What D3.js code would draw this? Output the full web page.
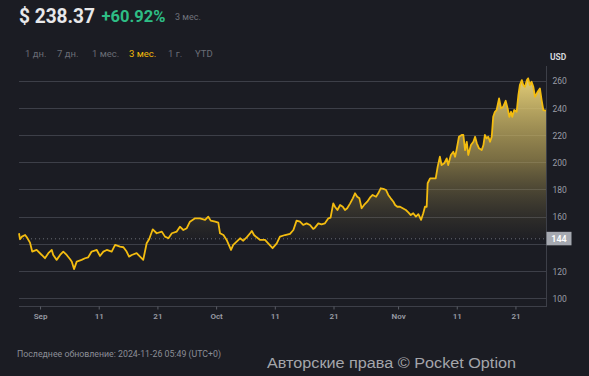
<!DOCTYPE html>
<html><head><meta charset="utf-8">
<script src="https://cdn.jsdelivr.net/npm/d3@7"></script>
<style>html,body{margin:0;padding:0;background:#1b1c23;}svg{display:block;}</style>
</head><body>
<svg id="c" width="589" height="376"></svg>
<script>
// ---- data ----
const dates = ["08-28 10","08-28 14","08-28 22","08-29 11","08-29 18","08-30 07","08-30 16","08-31 10","09-01 07","09-01 20",
"09-02 10","09-03 00","09-03 06","09-03 20","09-04 10","09-04 23","09-05 13","09-06 03","09-06 10","09-06 19",
"09-07 06","09-08 02","09-08 16","09-09 05","09-09 19","09-10 16","09-11 05","09-11 19","09-12 09","09-13 05",
"09-13 19","09-14 15","09-15 05","09-15 18","09-16 04","09-16 15","09-17 11","09-18 01","09-18 14","09-19 04",
"09-19 14","09-20 05","09-20 21","09-21 18","09-22 07","09-22 21","09-23 11","09-24 07","09-24 20","09-25 10",
"09-26 00","09-26 13","09-27 10","09-28 06","09-29 03","09-29 16","09-30 02","09-30 20","10-01 09","10-01 16",
"10-02 06","10-02 19","10-03 13","10-03 22","10-04 12","10-05 02","10-05 15","10-06 05","10-06 19","10-07 02",
"10-07 11","10-07 22","10-08 11","10-09 08","10-09 21","10-10 15","10-11 08","10-11 21","10-12 18","10-13 14",
"10-14 04","10-14 17","10-15 07","10-15 20","10-16 10","10-17 00","10-17 13","10-17 20","10-18 10","10-18 23",
"10-19 13","10-20 03","10-20 12","10-20 23","10-21 06","10-21 16","10-22 03","10-22 14","10-22 23","10-23 08",
"10-23 20","10-24 07","10-24 16","10-25 01","10-25 10","10-25 19","10-26 05","10-26 18","10-27 05","10-27 16",
"10-28 06","10-28 15","10-29 01","10-29 12","10-29 23","10-30 08","10-30 18","10-31 05","10-31 12","10-31 21",
"11-01 08","11-01 19","11-02 08","11-02 18","11-03 04","11-03 14","11-04 01","11-04 11","11-04 22","11-05 07",
"11-05 14","11-05 21","11-06 01","11-06 11","11-07 00","11-07 10","11-07 18","11-08 03","11-08 10","11-08 21",
"11-09 07","11-09 13","11-10 00","11-10 10","11-10 17","11-10 23","11-11 09","11-11 20","11-12 03","11-12 10",
"11-12 17","11-12 23","11-13 10","11-13 20","11-14 03","11-14 10","11-14 19","11-15 06","11-15 13","11-15 19",
"11-16 02","11-16 09","11-16 16","11-16 23","11-17 05","11-17 12","11-17 19","11-18 05","11-18 13","11-18 22",
"11-19 08","11-19 16","11-19 23","11-20 06","11-20 11","11-20 19","11-21 05","11-21 12","11-21 18","11-22 02",
"11-22 08","11-22 15","11-22 23","11-23 04","11-23 11","11-23 18","11-24 01","11-24 08","11-24 19","11-25 04",
"11-25 11","11-25 18","11-26 05"];
const prices = [148.1,143.7,145.6,146.8,145.1,141.2,134.6,135.8,132.1,129.7,
133.4,135.8,132.1,128.5,132.1,134.6,132.1,129.0,127.2,121.7,
127.2,128.5,129.7,130.4,134.6,135.8,131.4,134.6,135.8,134.6,
139.5,138.2,137.8,134.6,130.9,132.1,133.4,130.9,128.5,140.7,
143.7,151.0,148.1,149.3,145.6,144.4,148.1,149.3,152.9,150.5,
151.8,156.6,159.1,159.1,157.9,160.3,157.4,156.6,155.9,148.1,
146.8,143.2,135.8,139.5,141.9,144.4,142.6,145.1,148.1,149.8,
146.8,145.1,143.2,143.2,140.7,137.1,140.7,145.6,146.8,147.6,
150.5,157.4,156.6,154.2,155.4,154.2,151.3,152.2,155.4,154.7,
155.4,159.1,159.6,170.1,167.6,165.2,168.9,167.6,165.2,166.5,
170.1,173.8,177.5,175.0,173.8,166.5,168.9,171.3,174.3,176.3,
175.0,177.5,181.2,180.7,179.9,176.3,173.8,171.3,168.9,167.6,
167.6,166.5,165.2,163.5,161.5,162.8,160.3,162.1,157.9,162.8,
167.6,167.6,184.9,188.5,188.5,188.5,197.1,204.4,198.3,199.6,
203.2,198.3,205.7,208.1,204.4,209.3,219.1,220.4,220.4,209.3,
215.4,205.7,213.0,215.4,219.1,214.3,210.6,209.3,213.0,220.4,
217.9,219.1,215.4,219.1,233.8,237.5,238.8,247.4,240.0,241.2,
245.6,240.0,233.8,237.5,233.8,238.8,237.5,249.8,257.1,260.8,
257.1,255.9,260.8,262.1,257.1,259.6,255.9,248.5,252.2,254.7,
246.1,238.8,238.37];
const baseValue = 144;
const yTicks = [100,120,140,160,180,200,220,240,260];
const xTickDates = ["09-01 00","09-11 00","09-21 00","10-01 00","10-11 00","10-21 00","11-01 00","11-11 00","11-21 00"];
const xTickLabels = ["Sep","11","21","Oct","11","21","Nov","11","21"];
const periods = ["1 дн.","7 дн.","1 мес.","3 мес.","1 г.","YTD"];
const activePeriod = "3 мес.";
const priceText = "$ 238.37", changeText = "+60.92%", spanText = "3 мес.";
const currency = "USD";
const updatedText = "Последнее обновление: 2024-11-26 05:49 (UTC+0)";
const copyrightText = "Авторские права © Pocket Option";

// ---- drawing ----
const parse = s => d3.utcParse("%Y-%m-%d %H")("2024-" + s);
const data = dates.map((d,i)=>({t:parse(d), v:prices[i]}));
const svg = d3.select("#c");
const font = "Roboto, 'Noto Sans', sans-serif";
const L = 19, R = 547, T = 81.2, B = 298.6, axisY = 306.5;

svg.append("rect").attr("width",589).attr("height",376).attr("fill","#1b1c23");

const x = d3.scaleUtc().domain([parse("08-28 10"), parse("11-26 09")]).range([L, R]);
const y = d3.scaleLinear().domain([100,260]).range([B, T]);

// gridlines
svg.append("g").selectAll("line").data(yTicks).join("line")
  .attr("x1",L).attr("x2",R).attr("y1",d=>y(d)).attr("y2",d=>y(d))
  .attr("stroke","#3d3f48").attr("stroke-width",1).attr("shape-rendering","crispEdges");

// gradient
const defs = svg.append("defs");
const g = defs.append("linearGradient").attr("id","fillg").attr("gradientUnits","userSpaceOnUse")
  .attr("x1",0).attr("x2",0).attr("y1",y(d3.max(prices))).attr("y2",y(baseValue));
g.append("stop").attr("offset",0).attr("stop-color","#e8d27a").attr("stop-opacity",0.97);
g.append("stop").attr("offset",0.5).attr("stop-color","#bfa95a").attr("stop-opacity",0.58);
g.append("stop").attr("offset",1).attr("stop-color","#6b6240").attr("stop-opacity",0.05);
defs.append("clipPath").attr("id","above").append("rect")
  .attr("x",L).attr("y",0).attr("width",R-L).attr("height",y(baseValue));

const area = d3.area().x(d=>x(d.t)).y0(y(baseValue)).y1(d=>y(d.v));
svg.append("path").datum(data).attr("d",area).attr("fill","url(#fillg)").attr("clip-path","url(#above)");

// baseline dotted
svg.append("line").attr("x1",L).attr("x2",R).attr("y1",y(baseValue)).attr("y2",y(baseValue))
  .attr("stroke","#6a6d76").attr("stroke-width",1).attr("stroke-dasharray","1,3");

// price line
const line = d3.line().x(d=>x(d.t)).y(d=>y(d.v));
svg.append("path").datum(data).attr("d",line).attr("fill","none")
  .attr("stroke","#f3bc10").attr("stroke-width",1.8).attr("stroke-linejoin","round");

// right axis (140 is hidden under the 144 marker, as in the reference)
const ya = svg.append("g").attr("transform",`translate(${R-0.5},0)`)
  .call(d3.axisRight(y).tickValues(yTicks.filter(v=>Math.abs(v-baseValue)>5)).tickSize(0).tickPadding(6));
ya.select(".domain").remove();
ya.selectAll("text").attr("fill","#9a9da6").attr("font-size","8.5px").attr("font-family",font);
svg.append("line").attr("x1",R-0.5).attr("x2",R-0.5).attr("y1",66).attr("y2",axisY)
  .attr("stroke","#3d3f48").attr("stroke-width",1);

// bottom axis
const xa = svg.append("g").attr("transform",`translate(0,${axisY})`)
  .call(d3.axisBottom(x).tickValues(xTickDates.map(parse)).tickFormat((d,i)=>xTickLabels[i]).tickSizeOuter(0).tickSize(3).tickPadding(4));
xa.select(".domain").attr("stroke","#3d3f48").attr("d",`M${L},0H${R}`);
xa.selectAll(".tick line").attr("stroke","#5a5d66");
xa.selectAll("text").attr("fill","#9a9da6").attr("font-size","8px").attr("font-weight","600").attr("font-family",font);

// 144 marker
svg.append("rect").attr("x",R-0.5).attr("y",y(baseValue)-7).attr("width",25).attr("height",13.5).attr("fill","#a6a9b1");
svg.append("text").attr("x",R+12).attr("y",y(baseValue)+3.3).attr("text-anchor","middle")
  .attr("fill","#ffffff").attr("font-size","9px").attr("font-weight","600").attr("font-family",font).text(baseValue);

svg.append("text").attr("x",550).attr("y",60).attr("fill","#d4d6dc").attr("font-size","8.5px")
  .attr("font-weight","700").attr("font-family",font).text(currency);

// header
svg.append("text").attr("x",19).attr("y",23).attr("fill","#e8e8ea").attr("font-size","20px")
  .attr("font-weight","700").attr("font-family",font)
  .attr("textLength",76).attr("lengthAdjust","spacingAndGlyphs").text(priceText);
svg.append("text").attr("x",101.5).attr("y",22).attr("fill","#2ebd85").attr("font-size","17px")
  .attr("font-weight","700").attr("font-family",font)
  .attr("textLength",64).attr("lengthAdjust","spacingAndGlyphs").text(changeText);
svg.append("text").attr("x",175).attr("y",20).attr("fill","#6f727b").attr("font-size","9px")
  .attr("font-family",font).text(spanText);

const px = [25,57,92,129,168,195];
svg.append("g").selectAll("text").data(periods).join("text")
  .attr("x",(d,i)=>px[i]).attr("y",57).attr("font-size","9.5px").attr("font-family",font)
  .attr("fill",d=>d===activePeriod?"#f0b90b":"#6a6d76").text(d=>d);

// footer
svg.append("text").attr("x",17).attr("y",357).attr("fill","#8b8e97").attr("font-size","9.5px")
  .attr("font-family",font).attr("textLength",204).attr("lengthAdjust","spacingAndGlyphs").text(updatedText);
svg.append("text").attr("x",267).attr("y",368).attr("fill","#a4a6ab").attr("font-size","14px")
  .attr("font-family","'Liberation Sans', Arial, sans-serif").attr("textLength",249).attr("lengthAdjust","spacingAndGlyphs").text(copyrightText);
</script>
</body></html>
